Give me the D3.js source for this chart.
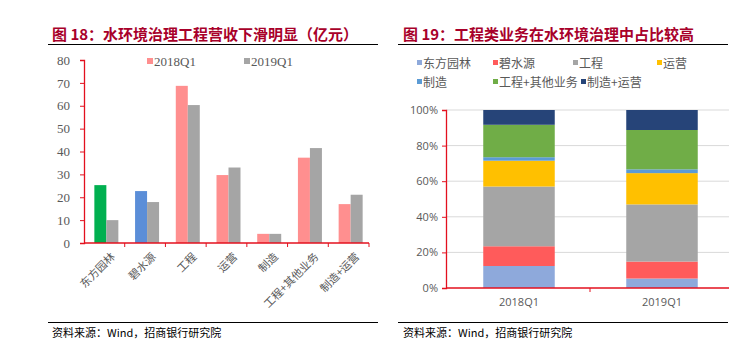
<!DOCTYPE html>
<html>
<head>
<meta charset="utf-8">
<script src="https://cdn.jsdelivr.net/npm/d3@7"></script>
<style>
body { margin: 0; background: #fff; }
svg { display: block; }
</style>
</head>
<body>
<div id="container"></div>
<script>
let w = 741;
let h = 351;

// DATA
let categories = ["东方园林", "碧水源", "工程", "运营", "制造", "工程+其他业务", "制造+运营"];
let periods = ["2018Q1", "2019Q1"];
let rev2018 = [25.3, 22.7, 68.7, 29.7, 4.0, 37.3, 17.0];
let rev2019 = [10.0, 17.9, 60.3, 33.0, 4.0, 41.5, 21.1];
let leftTicks = [0, 10, 20, 30, 40, 50, 60, 70, 80];
let rightTicks = [0, 0.2, 0.4, 0.6, 0.8, 1];

let cjk = "'Noto Sans CJK SC', sans-serif";
let serif = "'Liberation Serif', 'DejaVu Serif', serif";
let axisRed = "#E3101E";
let titleRed = "#A8002A";
let textGray = "#595959";

let viz = d3.select("#container").append("svg")
  .attr("width", w)
  .attr("height", h);

// titles, rules and footers
function header(x1, x2, tx, title) {
  viz.append("text").attr("x", tx).attr("y", 40)
    .attr("font-family", cjk).attr("font-weight", "bold")
    .attr("font-size", 15).attr("fill", titleRed).text(title);
  viz.append("line").attr("x1", x1).attr("x2", x2).attr("y1", 44.5).attr("y2", 44.5)
    .attr("stroke", "#000").attr("stroke-width", 1.2);
  viz.append("line").attr("x1", x1).attr("x2", x2).attr("y1", 322.5).attr("y2", 322.5)
    .attr("stroke", "#000").attr("stroke-width", 1.2);
  viz.append("text").attr("x", tx).attr("y", 337)
    .attr("font-family", cjk).attr("font-size", 11).attr("fill", "#000")
    .text("资料来源：Wind，招商银行研究院");
}
header(48, 378, 52, "图 18：水环境治理工程营收下滑明显（亿元）");
header(398, 728, 403, "图 19：工程类业务在水环境治理中占比较高");

// LEFT CHART: grouped bars
let xL = d3.scaleBand().domain(categories).range([84, 369]);
let xSub = d3.scaleBand().domain(periods).range([0, 24]);
let yL = d3.scaleLinear().domain([0, 80]).range([243, 60]);

let firstColors = ["#00B050", "#5B8ED8"];
let pink = "#FF8F8F";
let gray = "#A5A5A5";

let gL = viz.append("g");
categories.forEach(function(c, i) {
  let x0 = xL(c) + xL.bandwidth() / 2 - 10;
  gL.append("rect")
    .attr("x", x0 + xSub("2018Q1")).attr("width", xSub.bandwidth())
    .attr("y", yL(rev2018[i])).attr("height", yL(0) - yL(rev2018[i]))
    .attr("fill", i < 2 ? firstColors[i] : pink);
  gL.append("rect")
    .attr("x", x0 + xSub("2019Q1")).attr("width", xSub.bandwidth())
    .attr("y", yL(rev2019[i])).attr("height", yL(0) - yL(rev2019[i]))
    .attr("fill", gray);
});

let yAxisL = viz.append("g").attr("transform", "translate(84,0)")
  .call(d3.axisLeft(yL).tickValues(leftTicks).tickSize(4).tickPadding(10));
yAxisL.select(".domain").attr("stroke", axisRed).attr("stroke-width", 1.3);
yAxisL.selectAll(".tick line").attr("stroke", axisRed);
yAxisL.selectAll("text").attr("font-family", serif).attr("font-size", 13).attr("fill", textGray);

let xAxisL = viz.append("g").attr("transform", "translate(0,243)");
xAxisL.append("line").attr("x1", 84).attr("x2", 369).attr("y1", 0).attr("y2", 0)
  .attr("stroke", axisRed).attr("stroke-width", 1.3);
categories.forEach(function(c) {
  xAxisL.append("line").attr("x1", xL(c) + xL.bandwidth()).attr("x2", xL(c) + xL.bandwidth())
    .attr("y1", 0).attr("y2", 4).attr("stroke", axisRed);
  xAxisL.append("text")
    .attr("transform", "translate(" + (xL(c) + xL.bandwidth() / 2 + 6) + ",9) rotate(-45)")
    .attr("text-anchor", "end").attr("dy", "0.7em")
    .attr("font-family", cjk).attr("font-size", 11).attr("fill", textGray)
    .text(c);
});

// left legend
[["2018Q1", pink, 147], ["2019Q1", gray, 244]].forEach(function(d) {
  viz.append("rect").attr("x", d[2]).attr("y", 58).attr("width", 6).attr("height", 6).attr("fill", d[1]);
  viz.append("text").attr("x", d[2] + 7).attr("y", 66)
    .attr("font-family", serif).attr("font-size", 13).attr("fill", textGray).text(d[0]);
});

// RIGHT CHART: 100% stacked bars
let stackColors = ["#8EA9DB", "#FF5B5B", "#A5A5A5", "#FFC000", "#5B9BD5", "#70AD47", "#264478"];
let rows = periods.map(function(p, j) {
  let row = { period: p };
  categories.forEach(function(c, i) { row[c] = j === 0 ? rev2018[i] : rev2019[i]; });
  return row;
});
let series = d3.stack().keys(categories).offset(d3.stackOffsetExpand)(rows);

let xR = d3.scaleBand().domain(periods).range([447.5, 733.5]).paddingInner(0.5).paddingOuter(0.25);
let yR = d3.scaleLinear().domain([0, 1]).range([288, 110]);

viz.append("g").selectAll("line").data(rightTicks.slice(1)).enter().append("line")
  .attr("x1", 446).attr("x2", 729)
  .attr("y1", function(d) { return yR(d); }).attr("y2", function(d) { return yR(d); })
  .attr("stroke", "#D9D9D9").attr("stroke-width", 1);

viz.append("g").selectAll("g").data(series).enter().append("g")
  .attr("fill", function(d, i) { return stackColors[i]; })
  .selectAll("rect").data(function(d) { return d; }).enter().append("rect")
  .attr("x", function(d) { return xR(d.data.period); })
  .attr("width", xR.bandwidth())
  .attr("y", function(d) { return yR(d[1]); })
  .attr("height", function(d) { return yR(d[0]) - yR(d[1]); });

let yAxisR = viz.append("g").attr("transform", "translate(446,0)")
  .call(d3.axisLeft(yR).tickValues(rightTicks).tickFormat(d3.format(".0%")).tickSize(4).tickPadding(4));
yAxisR.select(".domain").attr("stroke", axisRed).attr("stroke-width", 1.3);
yAxisR.selectAll(".tick line").attr("stroke", axisRed);
yAxisR.selectAll("text").attr("font-family", "'Open Sans', sans-serif").attr("font-size", 11).attr("fill", textGray);

let xAxisR = viz.append("g").attr("transform", "translate(0,288)");
xAxisR.append("line").attr("x1", 446).attr("x2", 729).attr("stroke", axisRed).attr("stroke-width", 1.3);
xAxisR.append("line").attr("x1", 590).attr("x2", 590).attr("y1", 0).attr("y2", 4).attr("stroke", axisRed);
periods.forEach(function(p) {
  xAxisR.append("text").attr("x", xR(p) + xR.bandwidth() / 2).attr("y", 18)
    .attr("text-anchor", "middle").attr("font-family", "'Open Sans', sans-serif")
    .attr("font-size", 11).attr("fill", textGray).text(p);
});

// right legend
let legX = [417, 493, 573, 657, 417, 493, 581];
categories.forEach(function(c, i) {
  let y = i < 4 ? 63 : 82;
  viz.append("rect").attr("x", legX[i]).attr("y", y - 3).attr("width", 5).attr("height", 5).attr("fill", stackColors[i]);
  viz.append("text").attr("x", legX[i] + 6).attr("y", y + 5)
    .attr("font-family", cjk).attr("font-size", 12).attr("fill", textGray).text(c);
});
</script>
</body>
</html>
